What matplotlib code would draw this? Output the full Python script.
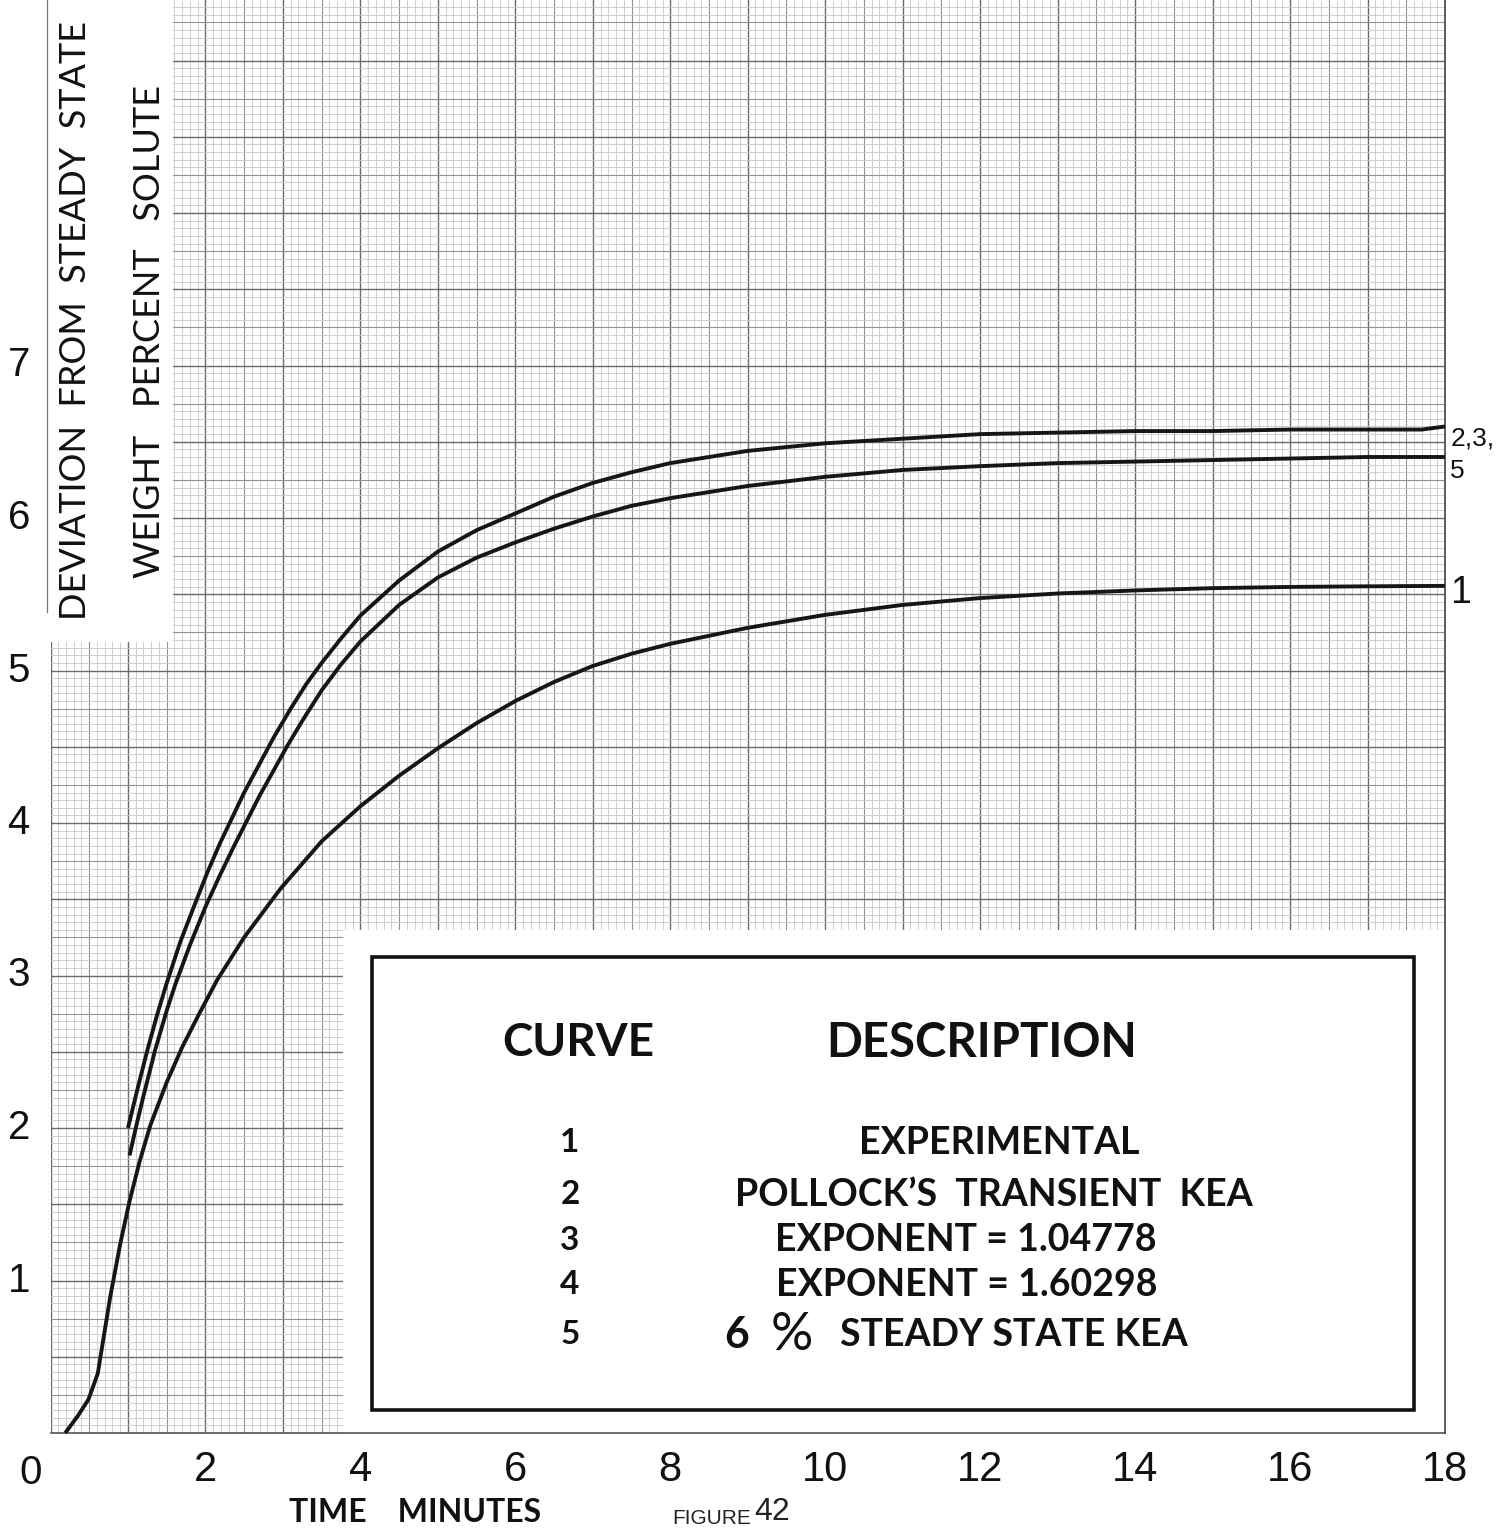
import matplotlib
matplotlib.use("Agg")
import matplotlib.pyplot as plt
from matplotlib.patches import Rectangle
import numpy as np

W, H = 1498, 1532

# -------------------------
# data (time in minutes, deviation in weight percent)
# -------------------------
# curves 2, 3 and 4 fall on top of each other
t_234 = [1.0, 1.125, 1.25, 1.375, 1.5, 1.675, 1.85, 2.02, 2.19, 2.5, 2.88, 3.1,
         3.3, 3.5, 3.75, 4.0, 4.5, 5.0, 5.5, 6.0, 6.5, 7.0, 7.5, 8.0, 9.0, 10.0,
         11.0, 12.0, 13.0, 14.0, 15.0, 16.0, 17.0, 17.7, 18.0]
dev_234 = [2.00, 2.26, 2.51, 2.74, 2.95, 3.22, 3.45, 3.67, 3.87, 4.20, 4.56, 4.75,
           4.91, 5.05, 5.21, 5.36, 5.59, 5.78, 5.92, 6.03, 6.14, 6.23, 6.30, 6.36,
           6.44, 6.49, 6.52, 6.55, 6.56, 6.57, 6.57, 6.58, 6.58, 6.58, 6.60]

t_5 = [1.02, 1.11, 1.2, 1.35, 1.5, 1.61, 1.8, 2.0, 2.18, 2.37, 2.7, 3.05, 3.25,
       3.5, 3.75, 4.0, 4.5, 5.0, 5.5, 6.0, 6.5, 7.0, 7.5, 8.0, 9.0, 10.0, 11.0,
       12.0, 13.0, 14.0, 15.0, 16.0, 17.0, 18.0]
dev_5 = [1.82, 2.02, 2.21, 2.51, 2.77, 2.94, 3.20, 3.45, 3.65, 3.85, 4.18, 4.50,
         4.67, 4.87, 5.04, 5.19, 5.43, 5.61, 5.74, 5.84, 5.93, 6.01, 6.08, 6.13,
         6.21, 6.27, 6.315, 6.34, 6.36, 6.37, 6.38, 6.39, 6.40, 6.40]

t_1 = [0.19, 0.35, 0.49, 0.61, 0.77, 0.9, 1.02, 1.15, 1.29, 1.5, 1.7, 1.9, 2.15,
       2.5, 2.97, 3.5, 4.0, 4.5, 5.0, 5.5, 6.0, 6.5, 7.0, 7.5, 8.0, 9.0, 10.0,
       11.0, 12.0, 13.0, 14.0, 15.0, 16.0, 17.0, 18.0]
dev_1 = [0.0, 0.11, 0.22, 0.39, 0.89, 1.24, 1.52, 1.78, 2.02, 2.30, 2.53, 2.73,
         2.97, 3.25, 3.57, 3.88, 4.11, 4.31, 4.49, 4.655, 4.80, 4.925, 5.03, 5.11,
         5.175, 5.28, 5.365, 5.43, 5.475, 5.505, 5.525, 5.54, 5.548, 5.552, 5.555]

end_labels = ["2,3,", "5", "1"]

x_tick_vals = [2, 4, 6, 8, 10, 12, 14, 16, 18]
y_tick_vals = [1, 2, 3, 4, 5, 6, 7]

legend_ids = ["1", "2", "3", "4", "5"]
legend_desc = ["EXPERIMENTAL",
               "POLLOCK\u2019S  TRANSIENT  KEA",
               "EXPONENT = 1.04778",
               "EXPONENT = 1.60298",
               "STEADY STATE KEA"]

XMAX = 18.0
YMAX = 1433 / 152.5


def px(x, y):
    # pixel position on the page -> figure fraction
    return x / W, 1 - y / H


fig = plt.figure(figsize=(W / 100, H / 100), dpi=100)
fig.patch.set_facecolor("white")
ax = fig.add_axes([50.5 / W, (H - 1433) / H, (1445 - 50.5) / W, 1433 / H])
ax.set_xlim(0, XMAX)
ax.set_ylim(0, YMAX)
ax.axis("off")

# -------------------------
# graph paper
# -------------------------
for xv in np.arange(0, XMAX + 0.001, 0.1):
    k = int(round(xv * 10))
    if k % 10 == 0:
        c, lw = "#6a6a6a", 1.0
    elif k % 5 == 0:
        c, lw = "#929292", 0.8
    else:
        c, lw = "#c8c8c8", 0.6
    ax.axvline(xv, color=c, lw=lw, zorder=1)
for yv in np.arange(0, YMAX, 0.05):
    k = int(round(yv * 20))
    if k % 10 == 0:
        c, lw = "#6a6a6a", 1.0
    elif k % 5 == 0:
        c, lw = "#929292", 0.8
    else:
        c, lw = "#c8c8c8", 0.6
    ax.axhline(yv, color=c, lw=lw, zorder=1)

# white areas pasted over the paper
ax.add_patch(Rectangle((-0.1, (1433 - 642) / 152.5), (175 - 45) / 77.5, 5,
                       facecolor="white", edgecolor="none", zorder=2,
                       clip_on=False))
ax.add_patch(Rectangle(((343 - 50) / 77.5, 0), XMAX - (343 - 50) / 77.5,
                       (1433 - 930) / 152.5, facecolor="white",
                       edgecolor="none", zorder=2))
ax.plot([-0.04, -0.04], [(1433 - 612) / 152.5, YMAX], color="#777777", lw=0.9,
        zorder=3, clip_on=False)
ax.plot([0, XMAX], [0, 0], color="#555555", lw=1.2, zorder=3, clip_on=False)
ax.plot([XMAX, XMAX], [0, YMAX], color="#444444", lw=1.2, zorder=3,
        clip_on=False)

# -------------------------
# curves
# -------------------------
for t, d in [(t_234, dev_234), (t_5, dev_5), (t_1, dev_1)]:
    ax.plot(t, d, color="#161616", lw=2.8, solid_capstyle="butt",
            solid_joinstyle="round", zorder=4, clip_on=False)

# labels at the right-hand ends
end_y = [dev_234[-1], dev_5[-1], dev_1[-1]]
end_size = [19, 19, 27]
end_dy = [-0.08, -0.09, -0.045]
for lab, yv, fs, dy in zip(end_labels, end_y, end_size, end_dy):
    ax.text(XMAX + 0.07, yv + dy, lab, fontsize=fs, ha="left", va="center",
            family=["Liberation Sans Narrow", "Liberation Sans", "DejaVu Sans"],
            color="#111111", clip_on=False)

# -------------------------
# tick labels and axis titles
# -------------------------
tick_font = ["Liberation Sans Narrow", "Liberation Sans", "DejaVu Sans"]
for xv in x_tick_vals:
    ax.text(xv, (1433 - 1470) / 152.5, str(xv), fontsize=30, ha="center",
            va="center", family=tick_font, color="#111111", clip_on=False)
ax.text(-0.26, (1433 - 1473) / 152.5, "0", fontsize=29, ha="center",
        va="center", family=["Liberation Sans", "DejaVu Sans"],
        color="#111111", clip_on=False)
for yv in y_tick_vals:
    ax.text(-0.41, yv, str(yv), fontsize=29, ha="center", va="center",
            family=["Liberation Sans", "DejaVu Sans"], color="#111111",
            clip_on=False)

lab_font = ["Lato", "DejaVu Sans"]
fig.text(*px(76, 320), "DEVIATION  FROM  STEADY  STATE", rotation=90,
         fontsize=26, ha="center", va="center", family=lab_font,
         color="#111111")
fig.text(*px(150, 331), "WEIGHT   PERCENT   SOLUTE", rotation=90,
         fontsize=26, ha="center", va="center", family=lab_font,
         color="#111111")
fig.text(*px(415, 1512), "TIME    MINUTES", fontsize=23, ha="center",
         va="center", family=lab_font, weight="bold", color="#111111")
fig.text(*px(712, 1518), "FIGURE", fontsize=15, ha="center", va="center",
         family=tick_font, color="#222222")
fig.text(*px(772, 1512), "42", fontsize=23, ha="center", va="center",
         family=tick_font, color="#222222")

# -------------------------
# legend box
# -------------------------
fig.patches.append(Rectangle(px(372, 1410), (1414 - 372) / W, (1410 - 957) / H,
                             transform=fig.transFigure, facecolor="none",
                             edgecolor="#111111", lw=2.6, zorder=5))
fig.text(*px(578, 1043), "CURVE", fontsize=33, ha="center", va="center",
         family=lab_font, weight="bold", color="#111111")
fig.text(*px(982, 1043), "DESCRIPTION", fontsize=34, ha="center",
         va="center", family=lab_font, weight="bold", color="#111111")
row_y = [1143, 1195, 1240, 1285, 1335]
desc_x = [999, 994, 966, 967, 1014]
for lid, desc, yy, dx in zip(legend_ids, legend_desc, row_y, desc_x):
    fig.text(*px(570, yy), lid, fontsize=24, ha="center", va="center",
             family=lab_font, weight="bold", color="#111111")
    fig.text(*px(dx, yy), desc, fontsize=27, ha="center", va="center",
             family=lab_font, weight="bold", color="#111111")
# the "6 %" part of row 5 is lettered larger
fig.text(*px(737, 1335), "6", fontsize=31, ha="center", va="center",
         family=lab_font, weight="bold", color="#111111")
fig.text(*px(792, 1336), "%", fontsize=38, ha="center", va="center",
         family=lab_font, color="#111111")

fig.savefig("out.png", dpi=100, facecolor="white")
